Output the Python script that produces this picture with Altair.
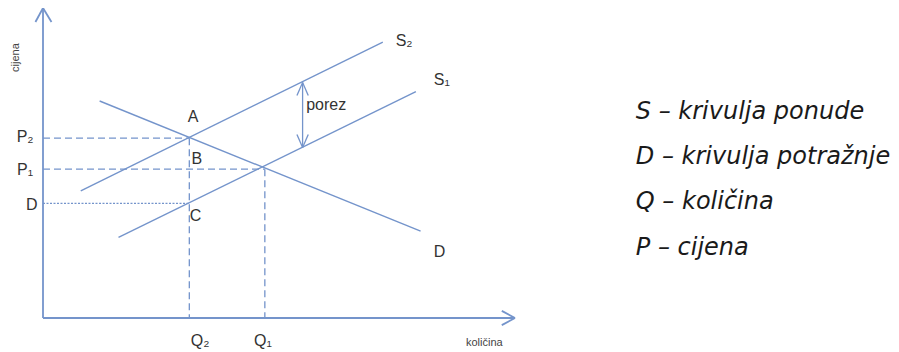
import altair as alt
import pandas as pd

# Curves (quantity, price units; axes origin at 0,0)
curve_names = ["S2", "S1", "D"]
curve_q0 = [8, 16, 12]
curve_p0 = [41, 26, 70]
curve_q1 = [72, 79, 80]
curve_p1 = [89, 73, 28]

# Axes with arrow heads
axis_q0 = [0, 0, -1.6, 1.8, 97.2, 97.2]
axis_p0 = [0, 0, 95.5, 95.5, 2.3, -2.3]
axis_q1 = [0, 100, 0, 0, 100, 100]
axis_p1 = [100, 0, 100, 100, 0, 0]

# Tax arrow (porez)
tax_q0 = [55, 55, 55, 55, 55]
tax_p0 = [76, 76, 76, 55, 55]
tax_q1 = [55, 53.8, 56.2, 53.8, 56.2]
tax_p1 = [55, 71.8, 71.8, 59.2, 59.2]

# Equilibrium points
A_q, A_p = 31, 58
E_q, E_p = 47, 48
C_q, C_p = 31, 37

# Dashed guides
dash_q0 = [0, 0, A_q, E_q]
dash_p0 = [A_p, E_p, A_p, E_p]
dash_q1 = [A_q, E_q, A_q, E_q]
dash_p1 = [A_p, E_p, 0, 0]

# Dotted guide
dot_q0 = [0]
dot_p0 = [C_p]
dot_q1 = [C_q]
dot_p1 = [C_p]

# Labels
label_text = ["S₂", "S₁", "D", "A", "B", "C", "porez", "P₂", "P₁", "D", "Q₂", "Q₁"]
label_q = [76.5, 84.5, 84.0, 31.8, 32.6, 32.3, 60.0, -3.8, -3.8, -2.4, 33.3, 46.6]
label_p = [89.5, 76.8, 21.3, 64.8, 51.2, 32.8, 68.8, 58.4, 47.7, 36.6, -7.3, -7.3]

axis_title_text = ["cijena", "količina"]
axis_title_q = [-5.7, 93.5]
axis_title_p = [84.0, -8.2]
axis_title_angle = [270, 0]

legend_text = ["S – krivulja ponude", "D – krivulja potražnje", "Q – količina", "P – cijena"]
legend_q = [125.6, 125.6, 125.6, 125.6]
legend_p = [64.2, 49.7, 35.2, 20.3]

BLUE = "#7494cb"

xs = alt.Scale(domain=[0, 100], nice=False, zero=False)
ys = alt.Scale(domain=[0, 100], nice=False, zero=False)


def seg_df(q0, p0, q1, p1):
    return pd.DataFrame({"q0": q0, "p0": p0, "q1": q1, "p1": p1})


def seg_layer(df, dash=None, width=1.4):
    kw = dict(color=BLUE, strokeWidth=width)
    if dash is not None:
        kw["strokeDash"] = dash
    return alt.Chart(df).mark_rule(**kw).encode(
        x=alt.X("q0:Q", scale=xs, axis=None),
        y=alt.Y("p0:Q", scale=ys, axis=None),
        x2="q1:Q",
        y2="p1:Q",
    )


curves = seg_layer(seg_df(curve_q0, curve_p0, curve_q1, curve_p1))
axes = seg_layer(seg_df(axis_q0, axis_p0, axis_q1, axis_p1), width=1.8)
tax = seg_layer(seg_df(tax_q0, tax_p0, tax_q1, tax_p1), width=1.3)
dashed = seg_layer(seg_df(dash_q0, dash_p0, dash_q1, dash_p1), dash=[7, 4], width=1.3)
dotted = seg_layer(seg_df(dot_q0, dot_p0, dot_q1, dot_p1), dash=[2, 1.5], width=1.3)

labels = alt.Chart(pd.DataFrame({"t": label_text, "q": label_q, "p": label_p})).mark_text(
    font="Liberation Sans Narrow, Liberation Sans, Arial", fontSize=16, color="#333333",
    baseline="middle", align="center"
).encode(
    x=alt.X("q:Q", scale=xs, axis=None),
    y=alt.Y("p:Q", scale=ys, axis=None),
    text="t:N",
)

axis_titles = alt.Chart(pd.DataFrame({"t": axis_title_text, "q": axis_title_q, "p": axis_title_p, "a": axis_title_angle})).mark_text(
    font="Liberation Sans Narrow, Liberation Sans, Arial", fontSize=11, color="#444444",
    baseline="middle", align="center"
).encode(
    x=alt.X("q:Q", scale=xs, axis=None),
    y=alt.Y("p:Q", scale=ys, axis=None),
    text="t:N",
    angle=alt.Angle("a:Q", scale=None),
)

legend = alt.Chart(pd.DataFrame({"t": legend_text, "q": legend_q, "p": legend_p})).mark_text(
    font="DejaVu Sans", fontSize=24, fontStyle="italic", color="#1a1a1a",
    baseline="alphabetic", align="left"
).encode(
    x=alt.X("q:Q", scale=xs, axis=None),
    y=alt.Y("p:Q", scale=ys, axis=None),
    text="t:N",
)

chart = alt.layer(dashed, dotted, curves, axes, tax, labels, axis_titles, legend).properties(
    width=472,
    height=310,
    autosize=alt.AutoSizeParams(type="none"),
    padding={"left": 35, "top": 0, "right": 376, "bottom": 34},
    background="white",
).configure_view(stroke=None)

chart.save("out.html", embed_options={"renderer": "svg", "actions": False})
